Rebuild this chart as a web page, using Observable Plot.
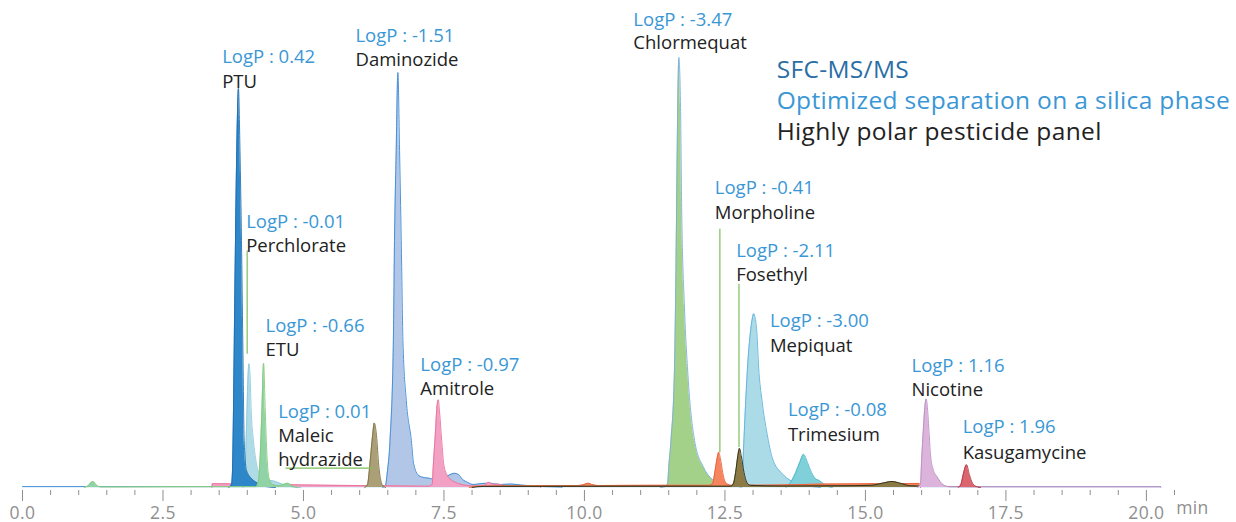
<!DOCTYPE html>
<html><head><meta charset="utf-8">
<script src="https://cdn.jsdelivr.net/npm/d3@7"></script>
<script src="https://cdn.jsdelivr.net/npm/@observablehq/plot@0.6"></script>
<style>
body{margin:0;background:#fff;}
#chart{width:1236px;height:522px;}
</style></head>
<body><div id="chart"></div>
<script>
// ---- Traces: [retention time (min), relative intensity] ----
const blueBaseline = [[0,0.2],[20.25,0.2]];
const daminozide = [[6.41,0],[6.46,0.5],[6.49,3.3],[6.54,10.9],[6.60,34.2],[6.62,57.4],[6.65,78.4],[6.68,96.5],[6.71,78.4],[6.74,57.4],[6.77,34.2],[6.83,20.2],[6.92,10.9],[6.96,5.6],[7.05,2.8],[7.15,2.3],[7.26,2.1],[7.37,1.6],[7.47,2.1],[7.58,2.8],[7.69,3.3],[7.76,3.0],[7.83,1.9],[7.92,1.2],[8.02,0.7],[8.15,0.9],[8.33,1.0],[8.51,0.7],[8.68,0.8],[8.86,0.6],[9.07,0.35],[9.31,0.2],[9.57,0.1],[9.6,0]];
const amitrole = [[3.37,0],[3.38,0.9],[4.5,0.7],[5.5,0.5],[6.5,0.4],[7.22,0.3],[7.29,0.7],[7.31,5.1],[7.35,13.3],[7.37,17.9],[7.40,20.4],[7.42,17.9],[7.46,10.9],[7.50,5.1],[7.56,2.8],[7.65,1.6],[7.76,0.9],[7.90,0.5],[8.06,0.35],[8.22,0.5],[8.29,1.2],[8.36,0.8],[8.5,0.7],[8.62,0.3],[9.2,0.2],[9.22,0]];
const chlormequat = [[11.35,0],[11.44,0.2],[11.48,0.9],[11.50,4.7],[11.54,10.9],[11.60,26.5],[11.62,41.9],[11.64,65.1],[11.66,88.4],[11.68,100],[11.71,88.4],[11.73,65.1],[11.78,41.9],[11.84,26.5],[11.96,10.9],[12.12,4.7],[12.24,2.3],[12.38,1.2],[12.56,0.6],[12.78,0.2],[12.8,0]];
const mepiquat = [[12.77,0],[12.81,2.4],[12.83,8.6],[12.87,20.2],[12.91,29.5],[12.95,35.7],[12.99,39.5],[13.01,40.4],[13.04,39.3],[13.07,35.7],[13.10,28.0],[13.16,20.2],[13.25,12.5],[13.34,7.0],[13.52,3.2],[13.67,1.6],[13.84,0.7],[14.06,0.2],[14.2,0]];
const perchlorate = [[3.93,0],[3.96,4.0],[3.99,15.6],[4.01,24.9],[4.03,28.8],[4.05,26.0],[4.07,17.9],[4.11,10.9],[4.16,5.8],[4.23,3.0],[4.34,1.9],[4.50,1.4],[4.64,0.7],[4.77,0.2],[4.95,0]];
const ptu = [[3.67,0],[3.72,0.7],[3.737,4.0],[3.747,10.9],[3.769,34.2],[3.790,57.4],[3.813,78.4],[3.843,92.8],[3.870,78.4],[3.897,57.4],[3.920,34.2],[3.945,10.9],[3.986,4.0],[4.09,1.9],[4.20,0.9],[4.34,0.2],[4.50,0]];
const etu = [[1.10,0],[1.17,0.4],[1.25,1.4],[1.33,0.4],[1.40,0.1],[2.5,0.15],[4.16,0.2],[4.20,1.6],[4.23,7.4],[4.26,17.9],[4.29,28.9],[4.32,17.9],[4.35,7.4],[4.39,2.1],[4.45,0.7],[4.56,0.4],[4.72,1.0],[4.80,0.3],[4.9,0]];
const maleic = [[6.09,0],[6.14,0.7],[6.18,5.1],[6.23,12.1],[6.26,15.0],[6.30,12.1],[6.34,5.1],[6.40,0.7],[6.46,0]];
const trimesium = [[13.59,0],[13.67,1.2],[13.76,3.5],[13.83,5.8],[13.90,7.7],[13.97,5.8],[14.04,3.5],[14.11,2.1],[14.18,1.6],[14.25,0.9],[14.34,0.2],[14.41,0]];
const morpholine = [[7.95,0],[8.1,0.3],[9.0,0.4],[9.9,0.45],[10.02,0.8],[10.07,1.0],[10.13,0.7],[10.25,0.45],[11.3,0.5],[12.21,0.5],[12.28,0.9],[12.32,3.5],[12.36,6.7],[12.39,8.2],[12.42,6.7],[12.46,3.5],[12.51,1.2],[12.60,0.5],[13.5,0.6],[14.3,0.8],[15.2,0.9],[15.96,0.95],[15.98,0]];
const fosethyl = [[8.0,0],[8.2,0.25],[11.0,0.3],[12.60,0.3],[12.65,0.9],[12.69,3.5],[12.73,7.4],[12.76,9.1],[12.79,7.4],[12.84,3.5],[12.89,1.2],[12.95,0.5],[13.5,0.35],[14.5,0.4],[15.09,0.5],[15.3,1.0],[15.47,1.4],[15.62,1.0],[15.8,0.4],[16.3,0.25],[17.0,0.2],[17.02,0]];
const nicotine = [[15.93,0],[15.98,0.9],[16.00,6.3],[16.03,13.3],[16.06,19.1],[16.08,20.6],[16.10,19.1],[16.13,13.3],[16.16,7.4],[16.21,4.0],[16.27,2.6],[16.33,1.4],[16.40,0.5],[16.51,0.15],[20.25,0.15],[20.26,0]];
const kasugamycine = [[16.65,0],[16.70,0.7],[16.74,3.0],[16.80,5.3],[16.85,3.0],[16.91,0.9],[16.98,0.2],[17.05,0]];

// ---- Annotations ----
const compoundNames = ["PTU","Perchlorate","ETU","Maleic\nhydrazide","Daminozide","Amitrole","Chlormequat","Morpholine","Fosethyl","Mepiquat","Trimesium","Nicotine","Kasugamycine"];
const logPValues = [0.42,-0.01,-0.66,0.01,-1.51,-0.97,-3.47,-0.41,-2.11,-3.00,-0.08,1.16,1.96];
const labelTime = [3.553,3.98,4.324,4.55,5.925,7.08,10.87,12.32,12.70,13.30,13.62,15.82,16.73];
const labelLogPLevel = [100.1,61.7,37.5,17.5,104.9,28.4,108.8,69.6,55.0,38.7,17.9,28.2,14.0];
const labelNameLevel = [94.8,56.5,32.3,9.6,99.7,23.2,103.7,64.3,49.7,33.4,12.6,23.0,8.4];
const leaderX1 = [3.998,4.68,12.41,12.75];
const leaderY1 = [55.1,4.5,60.2,47.4];
const leaderX2 = [3.998,6.25,12.41,12.75];
const leaderY2 = [31.1,4.5,8.2,9.4];
const titleLines = ["SFC-MS/MS","Optimized separation on a silica phase","Highly polar pesticide panel"];
const majorTicks = [0,2.5,5,7.5,10,12.5,15,17.5,20];
const minorTicks = [0.5,1,1.5,2,3,3.5,4,4.5,5.5,6,6.5,7,8,8.5,9,9.5,10.5,11,11.5,12,13,13.5,14,14.5,15.5,16,16.5,17,18,18.5,19,19.5,20.5];

// ---- Styles ----
const traces = [
  {data: daminozide, fill:"#b2c6e7", stroke:"#3a89d3"},
  {data: amitrole, fill:"#f2a0c3", stroke:"#e87198"},
  {data: chlormequat, fill:"#a4d18a", stroke:"#7aaedc"},
  {data: mepiquat, fill:"#abdbe6", stroke:"#5cb0dd"},
  {data: perchlorate, fill:"#aedbe5", stroke:"#8ccbdc"},
  {data: ptu, fill:"#2d87c9", stroke:"#1f6db0"},
  {data: etu, fill:"#8fd3a6", stroke:"#86c878"},
  {data: maleic, fill:"#ab9f78", stroke:"#7d6f3e"},
  {data: trimesium, fill:"#80d0d9", stroke:"#4fb8c8"},
  {data: morpholine, fill:"#f5855f", stroke:"#e8603a"},
  {data: fosethyl, fill:"#8b7a45", stroke:"#2e2a18"},
  {data: nicotine, fill:"#dcb3da", stroke:"#b88cc2"},
  {data: kasugamycine, fill:"#dc6670", stroke:"#b23a46"}
];
const FONT = "'Open Sans', sans-serif";

const labels = compoundNames.map((n,i)=>({name:n, logP:"LogP : " + logPValues[i].toFixed(2), t:labelTime[i], vL:labelLogPLevel[i], vN:labelNameLevel[i]}));
const leaders = leaderX1.map((x,i)=>({x1:x, y1:leaderY1[i], x2:leaderX2[i], y2:leaderY2[i]}));

const marks = [];
marks.push(Plot.lineY(blueBaseline, {x:d=>d[0], y:d=>d[1], stroke:"#3d8bd4", strokeWidth:1}));
for (const tr of traces) {
  marks.push(Plot.areaY(tr.data, {x:d=>d[0], y:d=>d[1], fill:tr.fill, curve:"monotone-x"}));
  marks.push(Plot.lineY(tr.data, {x:d=>d[0], y:d=>d[1], stroke:tr.stroke, strokeWidth:0.9, curve:"monotone-x"}));
}
marks.push(Plot.link(leaders, {x1:"x1", y1:"y1", x2:"x2", y2:"y2", stroke:"#7cbf5a", strokeWidth:1.2}));
marks.push(Plot.text(labels, {x:"t", y:"vL", text:"logP", textAnchor:"start", fill:"#3a97d6", fontSize:18.5, fontFamily:FONT}));
marks.push(Plot.text(labels, {x:"t", y:"vN", text:"name", textAnchor:"start", fill:"#222", fontSize:18.5, lineHeight:1.3, fontFamily:FONT}));
const titleColors = ["#2b6ea6","#3a97d6","#222"];
titleLines.forEach((line,i)=>{
  marks.push(Plot.text([line], {x:()=>13.42, y:()=>97.0, dy:i*30.8, text:d=>d, textAnchor:"start", fill:titleColors[i], fontSize:24.5, fontFamily:FONT}));
});
marks.push(Plot.axisX(majorTicks, {anchor:"bottom", tickSize:11, tickPadding:5, tickFormat:d=>d.toFixed(1), color:"#8f8f8f", fontSize:17.5, fontFamily:FONT, label:null, dy:3}));
marks.push(Plot.axisX(minorTicks, {anchor:"bottom", tickSize:5, tickFormat:()=>"", color:"#8f8f8f", label:null, dy:3}));
marks.push(Plot.text(["min"], {x:()=>20.53, frameAnchor:"bottom", dy:26, text:d=>d, textAnchor:"start", fill:"#8f8f8f", fontSize:17.5, fontFamily:FONT}));

const chart = Plot.plot({
  width:1236, height:522,
  marginLeft:22, marginRight:62, marginTop:57, marginBottom:35,
  x:{domain:[0,20.5], axis:null},
  y:{domain:[0,100], axis:null},
  style:{fontFamily:FONT, background:"#fff", overflow:"visible"},
  marks
});
// widen title lettering slightly to match the reference typeface
d3.select(chart).selectAll('g[font-size="24.5"] text').attr("letter-spacing", "0.35px");
d3.select(chart).selectAll('g[font-size="17.5"] text').attr("letter-spacing", "0.4px");
document.getElementById("chart").appendChild(chart);
</script>
</body></html>
